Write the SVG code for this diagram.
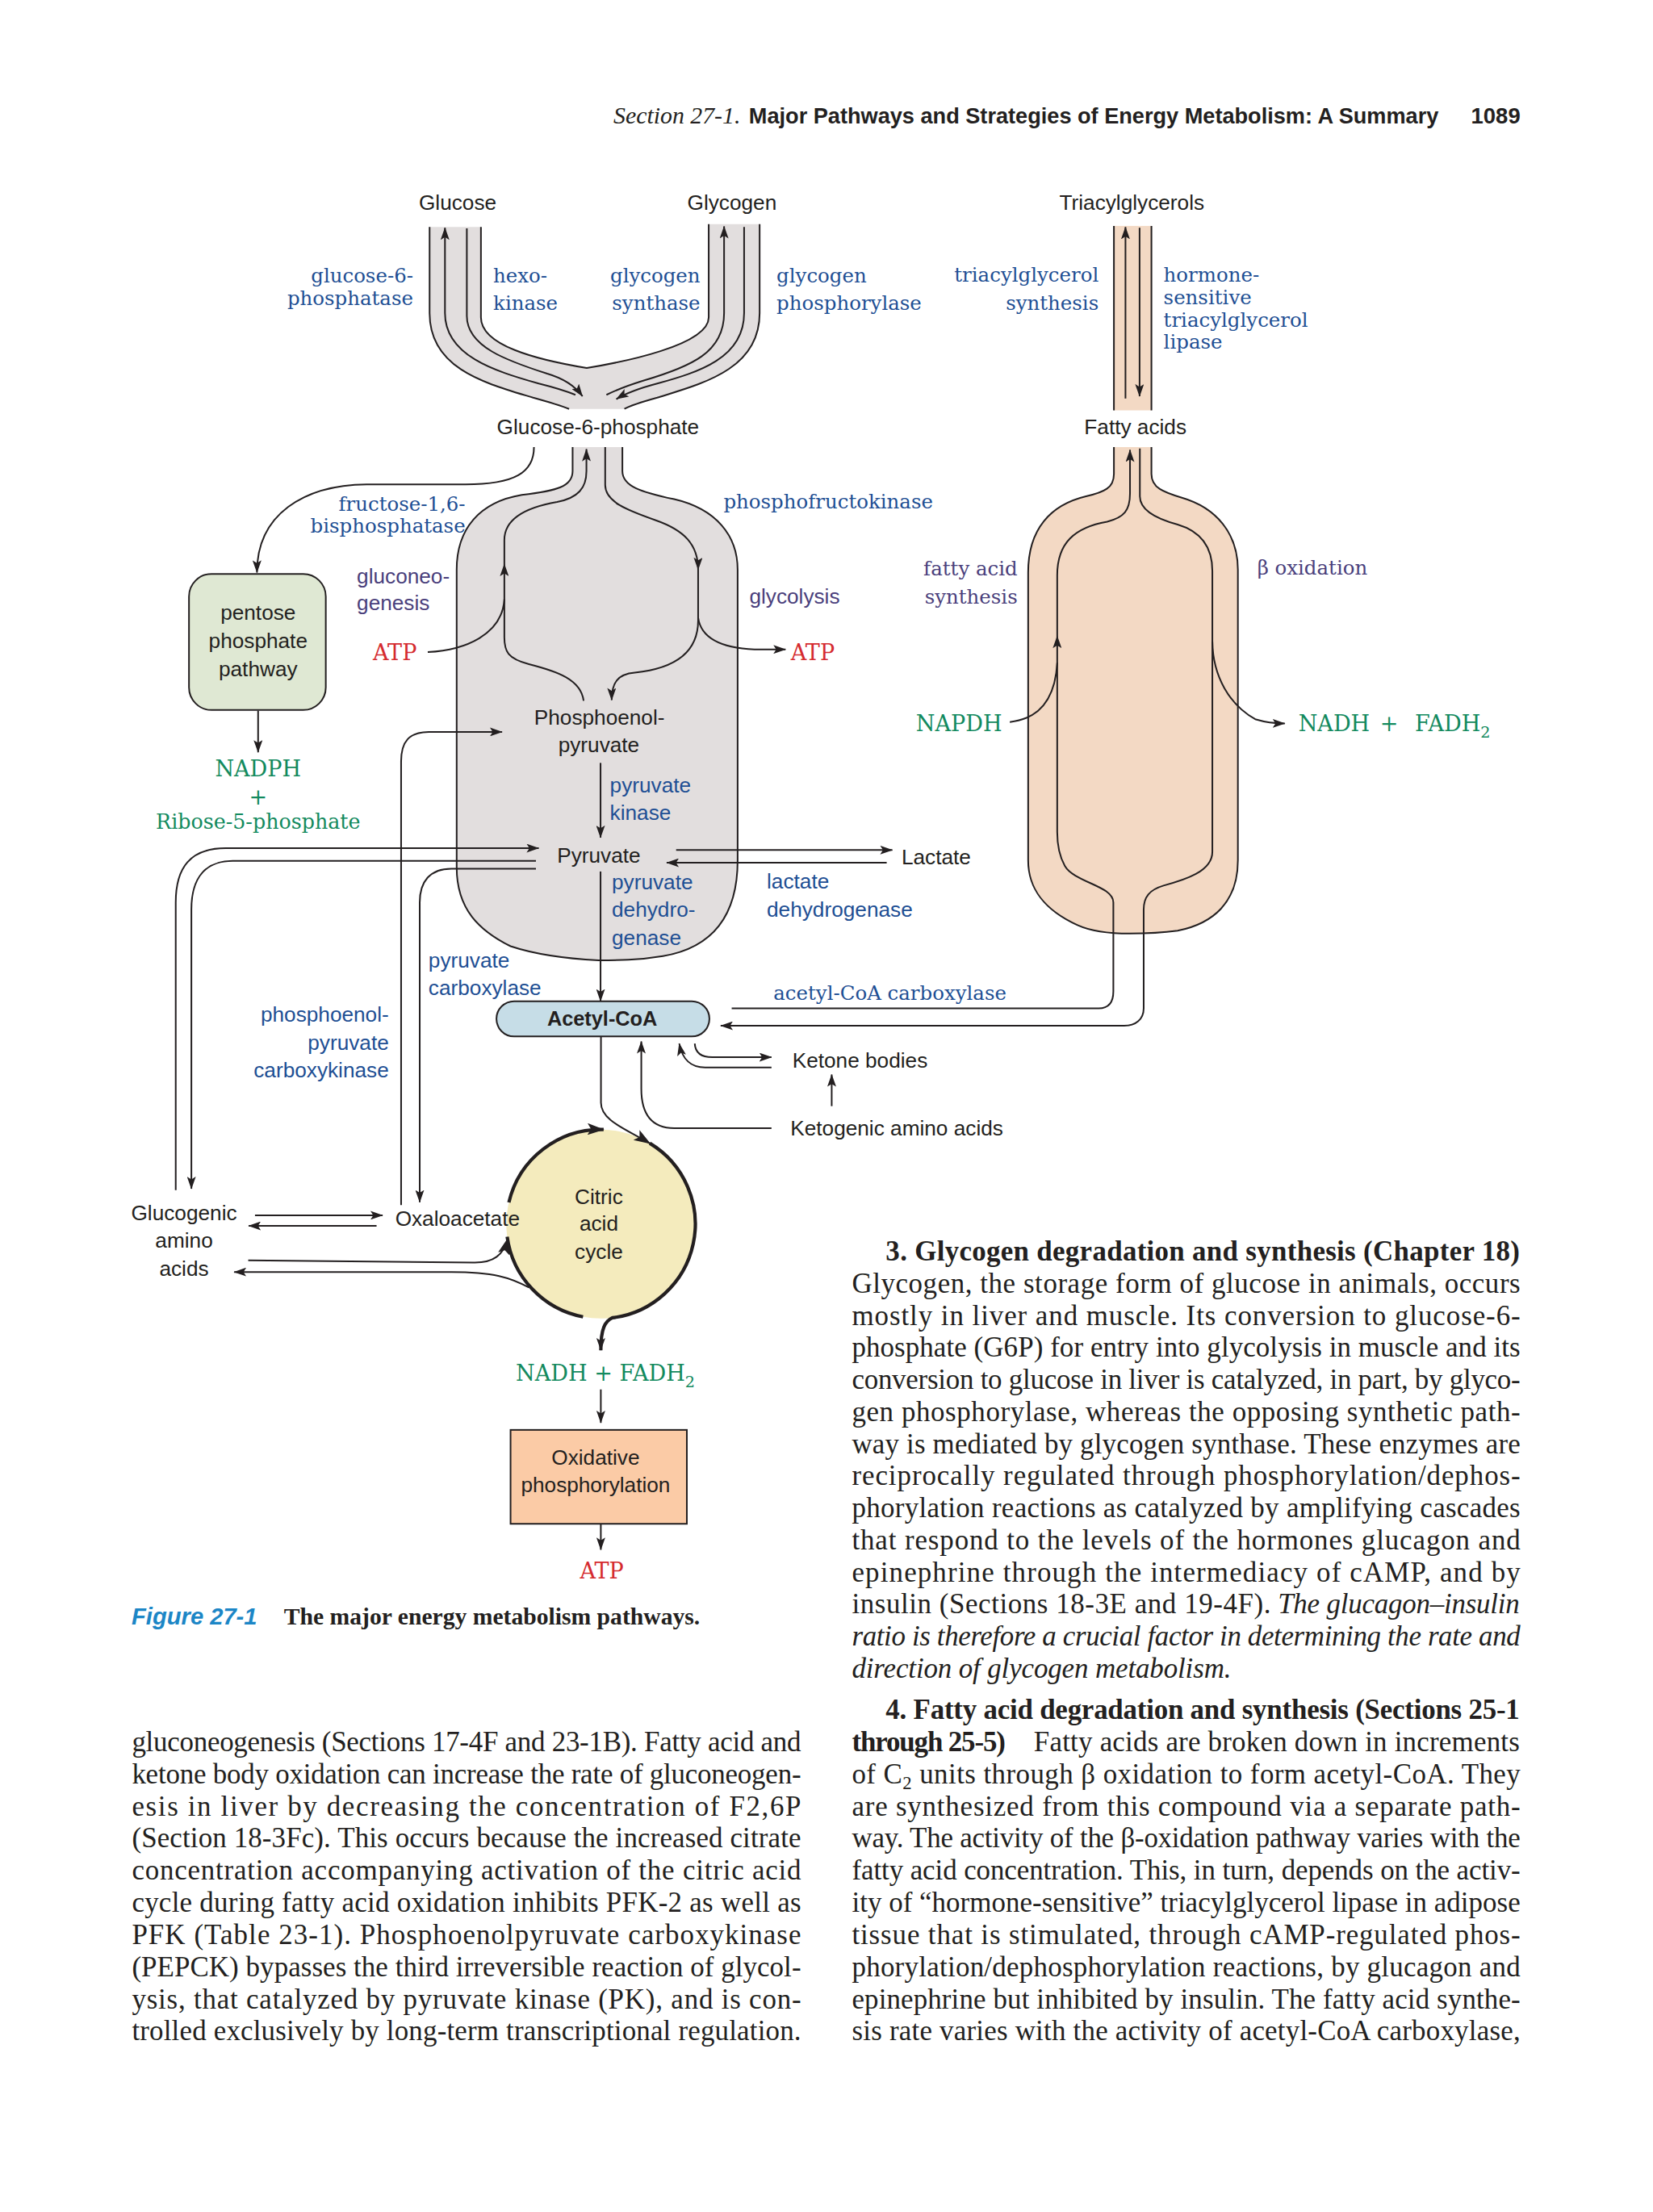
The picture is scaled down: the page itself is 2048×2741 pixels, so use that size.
<svg xmlns="http://www.w3.org/2000/svg" width="2048" height="2741" viewBox="0 0 2048 2741">
<defs>
<style>
.ln{fill:none;stroke:#231f20;stroke-width:1.15}
.tk{fill:none;stroke:#231f20;stroke-width:2.4}
.a{marker-end:url(#ah)}
.ab{marker-end:url(#ahb)}
.gray{fill:#e2dede}
.peach{fill:#f3d9c4}
.s{font-family:"Liberation Sans",Arial,sans-serif;font-size:15px;fill:#231f20}
.sb{fill:#1e4f94}
.sp{fill:#4a3f7c}
.r{font-family:"DejaVu Serif","Liberation Serif",serif;font-size:14px}
.rb{fill:#1e4f94}
.rp{fill:#4a3f7c}
.g{font-family:"DejaVu Serif","Liberation Serif",serif;font-size:15.5px;fill:#138a5e}
.red{font-family:"DejaVu Serif","Liberation Serif",serif;font-size:15.5px;fill:#d52b2f}
.m{text-anchor:middle}
.e{text-anchor:end}
.t{font-family:"Liberation Serif","Times New Roman",serif;font-size:20px;fill:#231f20}
.tb{font-weight:bold}
.ti{font-style:italic}
</style>
<marker id="ah" viewBox="0 0 10 7" refX="9.6" refY="3.5" markerWidth="9" markerHeight="6.3" orient="auto" markerUnits="userSpaceOnUse"><path d="M0,0 L10,3.5 L0,7 L2.2,3.5 z" fill="#231f20"/></marker>
<marker id="ahb" viewBox="0 0 10 7" refX="9.6" refY="3.5" markerWidth="12" markerHeight="8.4" orient="auto" markerUnits="userSpaceOnUse"><path d="M0,0 L10,3.5 L0,7 L2.2,3.5 z" fill="#231f20"/></marker>
</defs>
<rect width="2048" height="2741" fill="#ffffff"/>
<g transform="scale(1.7474)">

<g id="header">
<text x="435" y="87.5" style="font-family:'Liberation Serif',serif;font-size:17px;font-style:italic;fill:#231f20" textLength="90" lengthAdjust="spacingAndGlyphs">Section 27-1.</text>
<text x="531" y="87.5" style="font-family:'Liberation Sans',Arial,sans-serif;font-size:15.5px;font-weight:bold;fill:#231f20" textLength="489" lengthAdjust="spacingAndGlyphs">Major Pathways and Strategies of Energy Metabolism: A Summary</text>
<text x="1043" y="87.5" style="font-family:'Liberation Sans',Arial,sans-serif;font-size:15.5px;font-weight:bold;fill:#231f20" textLength="35" lengthAdjust="spacingAndGlyphs">1089</text>
</g>

<!-- region shapes -->
<g id="g6p-funnel">
<path class="gray" d="M304.6,161 H341 V225 C341,245 380,255 416,261 C440,257 502.5,245 502.5,225 V159 H538.6 V222 C538.6,262 498,272 466,282 Q448,287 442.7,290 H403.5 Q396,287 378,282 C345,272 304.6,262 304.6,222 Z"/>
<path class="ln" d="M304.6,161 V222 C304.6,262 345,272 378,282 Q396,287 403.5,290"/>
<path class="ln" d="M341,161 V225 C341,245 380,255 416,261 C440,257 502.5,245 502.5,225 V159"/>
<path class="ln" d="M538.6,159 V222 C538.6,262 498,272 466,282 Q448,287 442.7,290"/>
</g>
<g id="glycolysis-body">
<path class="gray" d="M406,317 H441.3 V334 C441.3,345 455,349 478,354 C508,361 523,380 523,404 V610 C523,650 505,672 470,678 C452,681 438,681 424.5,681 C405,680 380,677 362,671 C340,660 323.8,645 323.8,615 V404 C323.8,375 340,356 370,351 C395,348 406,345 406,334 Z"/>
<path class="ln" d="M406,317 V334 C406,345 395,348 370,351 C340,356 323.8,375 323.8,404 V615 C323.8,645 340,660 362,671 C380,677 405,680 424.5,681 C438,681 452,681 470,678 C505,672 523,650 523,610 V404 C523,380 508,361 478,354 C455,349 441.3,345 441.3,334 V317"/>
</g>
<g id="tag-stem">
<rect class="peach" x="789.8" y="160.2" width="26.6" height="130.8"/>
<path class="ln" d="M789.8,160.2 V291 M816.4,160.2 V291"/>
</g>
<g id="fatty-acid-body">
<path class="peach" d="M789.8,317 H816.4 V336 C816.4,346 825,349 838,353 C862,360 877.7,378 877.7,404 V610 C877.7,640 860,655 835,660 C820,662 810,662 801,662 C790,662 775,661 764,656 C740,645 729,630 729,610 V406 C729,375 745,358 770,352 C783,349 789.8,346 789.8,336 Z"/>
<path class="ln" d="M789.8,317 V336 C789.8,346 783,349 770,352 C745,358 729,375 729,406 V610 C729,630 740,645 764,656 C775,661 790,662 801,662 C810,662 820,662 835,660 C860,655 877.7,640 877.7,610 V404 C877.7,378 862,360 838,353 C825,349 816.4,346 816.4,336 V317"/>
</g>

<!-- nodes -->
<g id="glucose"><text class="s m" x="324.5" y="149">Glucose</text></g>
<g id="glycogen"><text class="s m" x="519" y="149">Glycogen</text></g>
<g id="triacylglycerols"><text class="s m" x="802.5" y="149">Triacylglycerols</text></g>
<g id="glucose-6-phosphate"><text class="s m" x="424" y="308">Glucose-6-phosphate</text></g>
<g id="fatty-acids"><text class="s m" x="805" y="308">Fatty acids</text></g>
<g id="pentose-phosphate-pathway">
<rect x="134" y="407" width="97" height="96.5" rx="16" fill="#dfe8d3" stroke="#231f20" stroke-width="1.15"/>
<text class="s m" x="183" y="439.7">pentose</text>
<text class="s m" x="183" y="459.7">phosphate</text>
<text class="s m" x="183" y="479.6">pathway</text>
</g>
<g id="nadph-ribose">
<text class="g m" x="183" y="550.5">NADPH</text>
<text class="g m" x="183" y="570.5">+</text>
<text class="g m" x="183" y="587.5" style="font-size:14.5px">Ribose-5-phosphate</text>
</g>
<g id="phosphoenolpyruvate">
<text class="s m" x="425" y="514">Phosphoenol-</text>
<text class="s m" x="424.6" y="533.6">pyruvate</text>
</g>
<g id="pyruvate"><text class="s m" x="424.6" y="612">Pyruvate</text></g>
<g id="lactate"><text class="s" x="639.2" y="612.8">Lactate</text></g>
<g id="acetyl-coa">
<rect x="352" y="710" width="151" height="25" rx="12.5" fill="#c6dde7" stroke="#231f20" stroke-width="1.15"/>
<text class="s m" x="427" y="727.2" style="font-weight:bold;font-size:14.5px">Acetyl-CoA</text>
</g>
<g id="ketone-bodies"><text class="s" x="561.8" y="757">Ketone bodies</text></g>
<g id="ketogenic-amino-acids"><text class="s" x="560.4" y="805">Ketogenic amino acids</text></g>
<g id="citric-acid-cycle">
<circle cx="426" cy="868" r="67" fill="#f4ebbd"/>
<text class="s m" x="424.6" y="854">Citric</text>
<text class="s m" x="424.6" y="873">acid</text>
<text class="s m" x="424.6" y="893">cycle</text>
</g>
<g id="glucogenic-amino-acids">
<text class="s m" x="130.5" y="865">Glucogenic</text>
<text class="s m" x="130.5" y="885">amino</text>
<text class="s m" x="130.5" y="904.5">acids</text>
</g>
<g id="oxaloacetate"><text class="s m" x="324.4" y="869.2">Oxaloacetate</text></g>
<g id="nadh-fadh2-cycle"><text class="g" x="365.7" y="979">NADH + FADH<tspan font-size="11" dy="4.5">2</tspan></text></g>
<g id="oxidative-phosphorylation">
<rect x="362" y="1014" width="125" height="66.6" fill="#fbcba6" stroke="#231f20" stroke-width="1.15"/>
<text class="s m" x="422.3" y="1038.5">Oxidative</text>
<text class="s m" x="422.3" y="1058.4">phosphorylation</text>
</g>
<g id="atp-oxphos"><text class="red m" x="426.7" y="1119.5">ATP</text></g>
<g id="atp-gluconeo"><text class="red" x="264.4" y="468">ATP</text></g>
<g id="atp-glycolysis"><text class="red" x="560.7" y="468">ATP</text></g>
<g id="napdh"><text class="g" x="649.4" y="518.5">NAPDH</text></g>
<g id="nadh-fadh2-beta"><text class="g" x="920.6" y="518.5">NADH</text><text class="g" x="978.4" y="518.5">+</text><text class="g" x="1003.2" y="518.5">FADH<tspan font-size="11" dy="4.5">2</tspan></text></g>

<!-- connectors -->
<g id="connectors">
<path class="ln a" d="M378.6,317 C378.6,335 365,343.5 330,343.5 L260,343.5 C215,344 182.2,365 182.2,406"/>
<path class="ln a" d="M183,504 V533.5"/>
<path class="ln a" d="M408,280 Q398,276 382,272 C350,263 315.5,252 315.5,222 V161.5"/>
<path class="ln a" d="M331,162 V224 C331,246 360,256 388,265 Q405,270 413,281"/>
<path class="ln a" d="M430,280 Q440,275 456,270 C490,260 513.4,250 513.4,222 V160.5"/>
<path class="ln a" d="M527.6,161 V222 C527.6,254 495,264 466,272 Q447,277 437,283"/>
<path class="ln a" d="M413.8,497 C412,482 395,476 375,471 C360,467 357.6,462 357.6,452 V400"/>
<path class="ln a" d="M357.6,400 V383 C357.6,368 372,360 395,356 C410,353 415.8,346 415.8,334 V318.5"/>
<path class="ln" d="M303.3,462.4 C330,461 356,450 357.6,425"/>
<path class="ln a" d="M429.1,317 V344 C429.1,356 445,362 465,369 C485,376 495,386 495,404"/>
<path class="ln a" d="M495,404 V440 C495,468 470,475 450,477 C438,478 433.7,484 433.7,496.5"/>
<path class="ln a" d="M495,438 C497,452 510,459.5 535,460.5 L557,460.5"/>
<path class="ln a" d="M425.8,541 V594"/>
<path class="ln a" d="M284.4,854.6 V540 C284.4,526 290,519 304,519 H356"/>
<path class="ln a" d="M124.6,844 V640 C124.6,615 135,601.5 160,601.5 H382"/>
<path class="ln a" d="M380,610.5 H165 C146,610.5 135.7,622 135.7,645 V843"/>
<path class="ln a" d="M380,616 H320 C305,616 297.6,625 297.6,640 V852.5"/>
<path class="ln a" d="M479.4,602.8 H632.7"/>
<path class="ln a" d="M628.7,611.8 H472.7"/>
<path class="ln a" d="M425.8,618 V710"/>
<path class="ln a" d="M518.8,715 H779 C786,715 789.4,711 789.4,703 V640 C789.4,628 762,626 755,614 C750.5,606 749.6,598 749.6,590 V451"/>
<path class="ln a" d="M749.6,451 V408 C749.6,385 762,374 785,370 C797,367 801.2,362 801.2,350 V319"/>
<path class="ln" d="M716,512 C735,510 748,498 749.6,470"/>
<path class="ln a" d="M808.2,318 V352 C808.2,362 820,368 835,372 C852,377 859.6,388 859.6,405 V604 C859.6,618 840,624 825,628 C815,631 810.9,636 810.9,645 V715 C810.9,723 805,727.4 797,727.4 H511"/>
<path class="ln a" d="M859.6,455 C860,480 872,500 890,510 Q900,513 911,513"/>
<path class="ln a" d="M798,282.6 V161"/>
<path class="ln a" d="M808,161.5 V281"/>
<path class="ln ab" d="M426.1,735 V782 C426.1,795 445,801 461,811"/>
<path class="ln a" d="M547,800 H478 C462,800 454.7,790 454.7,772 V738.5"/>
<path class="ln a" d="M492.6,740 C493,747 498,749.7 505,749.7 H547"/>
<path class="ln a" d="M547,757 H500 C490,757 484,752 481.6,740"/>
<path class="ln a" d="M589.7,784.4 V762"/>
<path class="ln a" d="M180.8,861.8 H271.3"/>
<path class="ln a" d="M267,869.3 H176.3"/>
<path class="ln ab" d="M176,893.7 L336,895.3 C350,895.5 357,890 360.2,878"/>
<path class="ln a" d="M375,913 C362,906 350,902 320,902 H166"/>
<path class="tk ab" d="M360.8,852.7 A67,67 0 0 1 428,801"/>
<path class="tk a" d="M460.7,810.7 A67,67 0 0 1 434.2,934.5 C429,937 426,942 426,957.5"/>
<path class="tk" d="M359.6,877 A67,67 0 0 0 413.4,933.8"/>
<path class="ln a" d="M426,985.3 V1009"/>
<path class="ln a" d="M426,1081 V1099"/>
</g>

<!-- enzyme / pathway labels -->
<g id="labels">
<text class="r rb e" x="293" y="200.5">glucose-6-</text>
<text class="r rb e" x="293" y="216.5">phosphatase</text>
<text class="r rb" x="349.7" y="200.5">hexo-</text>
<text class="r rb" x="349.7" y="220">kinase</text>
<text class="r rb e" x="496.5" y="200.5">glycogen</text>
<text class="r rb e" x="496.5" y="220">synthase</text>
<text class="r rb" x="550.6" y="200.5">glycogen</text>
<text class="r rb" x="550.6" y="220">phosphorylase</text>
<text class="r rb e" x="779" y="200">triacylglycerol</text>
<text class="r rb e" x="779" y="219.7">synthesis</text>
<text class="r rb" x="825" y="200">hormone-</text>
<text class="r rb" x="825" y="216">sensitive</text>
<text class="r rb" x="825" y="231.7">triacylglycerol</text>
<text class="r rb" x="825" y="247.5">lipase</text>
<text class="r rb e" x="330" y="362">fructose-1,6-</text>
<text class="r rb e" x="330" y="377.5">bisphosphatase</text>
<text class="r rb" x="513" y="360.5">phosphofructokinase</text>
<text class="s sp" x="253" y="413.5">gluconeo-</text>
<text class="s sp" x="253" y="432.8">genesis</text>
<text class="s sp" x="531.3" y="428">glycolysis</text>
<text class="r rp e" x="721.5" y="408">fatty acid</text>
<text class="r rp e" x="721.5" y="428">synthesis</text>
<text class="r rp" x="891.4" y="407.5">β oxidation</text>
<text class="s sb" x="432.4" y="562.2">pyruvate</text>
<text class="s sb" x="432.4" y="581.6">kinase</text>
<text class="s sb" x="433.8" y="630.8">pyruvate</text>
<text class="s sb" x="433.8" y="650">dehydro-</text>
<text class="s sb" x="433.8" y="670">genase</text>
<text class="s sb" x="543.7" y="630.3">lactate</text>
<text class="s sb" x="543.7" y="650.3">dehydrogenase</text>
<text class="s sb" x="303.8" y="686">pyruvate</text>
<text class="s sb" x="303.8" y="705.5">carboxylase</text>
<text class="s sb e" x="275.7" y="724.5">phosphoenol-</text>
<text class="s sb e" x="275.7" y="744.8">pyruvate</text>
<text class="s sb e" x="275.7" y="764.2">carboxykinase</text>
<text class="r rb m" x="631" y="709">acetyl-CoA carboxylase</text>
</g>

<g id="caption">
<text x="93.3" y="1152" style="font-family:'Liberation Sans',Arial,sans-serif;font-size:16.5px;font-weight:bold;font-style:italic;fill:#1c86c6" textLength="89" lengthAdjust="spacingAndGlyphs">Figure 27-1</text>
<text x="201.3" y="1152" style="font-family:'Liberation Serif',serif;font-size:17px;font-weight:bold;fill:#231f20" textLength="295" lengthAdjust="spacingAndGlyphs">The major energy metabolism pathways.</text>
</g>

<g id="body-text-left">
<text class="t" x="93.5" y="1241.8" textLength="474.5" lengthAdjust="spacing">gluconeogenesis (Sections 17-4F and 23-1B). Fatty acid and</text>
<text class="t" x="93.5" y="1264.6" textLength="474.5" lengthAdjust="spacing">ketone body oxidation can increase the rate of gluconeogen-</text>
<text class="t" x="93.5" y="1287.4" textLength="474.5" lengthAdjust="spacing">esis in liver by decreasing the concentration of F2,6P</text>
<text class="t" x="93.5" y="1310.2" textLength="474.5" lengthAdjust="spacing">(Section 18-3Fc). This occurs because the increased citrate</text>
<text class="t" x="93.5" y="1333" textLength="474.5" lengthAdjust="spacing">concentration accompanying activation of the citric acid</text>
<text class="t" x="93.5" y="1355.8" textLength="474.5" lengthAdjust="spacing">cycle during fatty acid oxidation inhibits PFK-2 as well as</text>
<text class="t" x="93.5" y="1378.6" textLength="474.5" lengthAdjust="spacing">PFK (Table 23-1). Phosphoenolpyruvate carboxykinase</text>
<text class="t" x="93.5" y="1401.4" textLength="474.5" lengthAdjust="spacing">(PEPCK) bypasses the third irreversible reaction of glycol-</text>
<text class="t" x="93.5" y="1424.2" textLength="474.5" lengthAdjust="spacing">ysis, that catalyzed by pyruvate kinase (PK), and is con-</text>
<text class="t" x="93.5" y="1447" textLength="474.5" lengthAdjust="spacing">trolled exclusively by long-term transcriptional regulation.</text>
</g>

<g id="body-text-right">
<text class="t tb" x="628" y="894" textLength="449.5" lengthAdjust="spacing">3. Glycogen degradation and synthesis (Chapter 18)</text>
<text class="t" x="604" y="916.75" textLength="474" lengthAdjust="spacing">Glycogen, the storage form of glucose in animals, occurs</text>
<text class="t" x="604" y="939.5" textLength="474" lengthAdjust="spacing">mostly in liver and muscle. Its conversion to glucose-6-</text>
<text class="t" x="604" y="962.25" textLength="474" lengthAdjust="spacing">phosphate (G6P) for entry into glycolysis in muscle and its</text>
<text class="t" x="604" y="985" textLength="474" lengthAdjust="spacing">conversion to glucose in liver is catalyzed, in part, by glyco-</text>
<text class="t" x="604" y="1007.75" textLength="474" lengthAdjust="spacing">gen phosphorylase, whereas the opposing synthetic path-</text>
<text class="t" x="604" y="1030.5" textLength="474" lengthAdjust="spacing">way is mediated by glycogen synthase. These enzymes are</text>
<text class="t" x="604" y="1053.25" textLength="474" lengthAdjust="spacing">reciprocally regulated through phosphorylation/dephos-</text>
<text class="t" x="604" y="1076" textLength="474" lengthAdjust="spacing">phorylation reactions as catalyzed by amplifying cascades</text>
<text class="t" x="604" y="1098.75" textLength="474" lengthAdjust="spacing">that respond to the levels of the hormones glucagon and</text>
<text class="t" x="604" y="1121.5" textLength="474" lengthAdjust="spacing">epinephrine through the intermediacy of cAMP, and by</text>
<text class="t" x="604" y="1144.25" textLength="297" lengthAdjust="spacing">insulin (Sections 18-3E and 19-4F).</text>
<text class="t ti" x="906" y="1144.25" textLength="171.5" lengthAdjust="spacing">The glucagon–insulin</text>
<text class="t ti" x="604" y="1167" textLength="474" lengthAdjust="spacing">ratio is therefore a crucial factor in determining the rate and</text>
<text class="t ti" x="604" y="1189.75" textLength="269" lengthAdjust="spacing">direction of glycogen metabolism.</text>
<text class="t tb" x="628" y="1219" textLength="449.5" lengthAdjust="spacing">4. Fatty acid degradation and synthesis (Sections 25-1</text>
<text class="t tb" x="604" y="1241.8" textLength="109" lengthAdjust="spacing">through 25-5)</text>
<text class="t" x="733" y="1241.8" textLength="344.5" lengthAdjust="spacing">Fatty acids are broken down in increments</text>
<text class="t" x="604" y="1264.6" textLength="474" lengthAdjust="spacing">of C<tspan font-size="13" dy="4">2</tspan><tspan dy="-4"> units through β oxidation to form acetyl-CoA. They</tspan></text>
<text class="t" x="604" y="1287.4" textLength="474" lengthAdjust="spacing">are synthesized from this compound via a separate path-</text>
<text class="t" x="604" y="1310.2" textLength="474" lengthAdjust="spacing">way. The activity of the β-oxidation pathway varies with the</text>
<text class="t" x="604" y="1333" textLength="474" lengthAdjust="spacing">fatty acid concentration. This, in turn, depends on the activ-</text>
<text class="t" x="604" y="1355.8" textLength="474" lengthAdjust="spacing">ity of “hormone-sensitive” triacylglycerol lipase in adipose</text>
<text class="t" x="604" y="1378.6" textLength="474" lengthAdjust="spacing">tissue that is stimulated, through cAMP-regulated phos-</text>
<text class="t" x="604" y="1401.4" textLength="474" lengthAdjust="spacing">phorylation/dephosphorylation reactions, by glucagon and</text>
<text class="t" x="604" y="1424.2" textLength="474" lengthAdjust="spacing">epinephrine but inhibited by insulin. The fatty acid synthe-</text>
<text class="t" x="604" y="1447" textLength="474" lengthAdjust="spacing">sis rate varies with the activity of acetyl-CoA carboxylase,</text>
</g>

</g>
</svg>
